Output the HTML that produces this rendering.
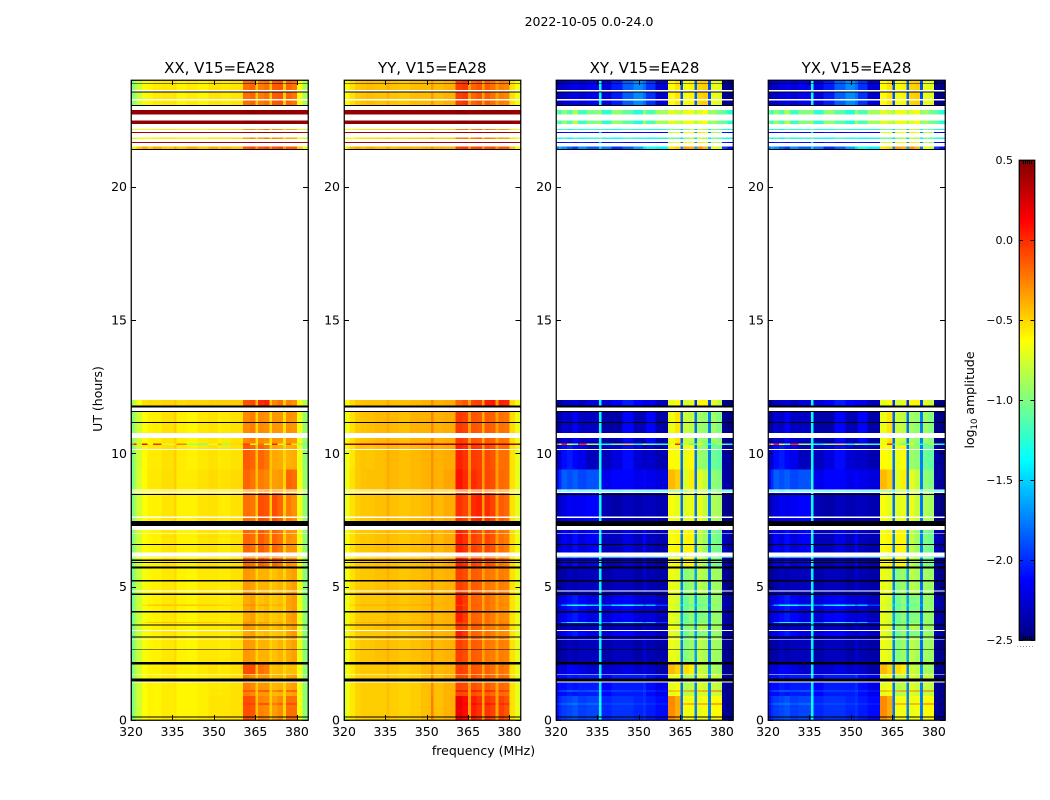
<!DOCTYPE html>
<html>
<head>
<meta charset="utf-8">
<title>2022-10-05 0.0-24.0</title>
<style>
html,body{margin:0;padding:0;background:#fff;}
svg{display:block;}
text{font-family:"DejaVu Sans","Liberation Sans",sans-serif;fill:#000;}
</style>
</head>
<body>
<svg id="fig" xmlns="http://www.w3.org/2000/svg" width="1050" height="800" viewBox="0 0 1050 800">
<rect x="0" y="0" width="1050" height="800" fill="#fff"/>
<text x="589" y="26" font-size="12.5" text-anchor="middle">2022-10-05 0.0-24.0</text>
<text x="0" y="0" font-size="12.5" text-anchor="middle" transform="translate(102,399) rotate(-90)">UT (hours)</text>
<text x="483.5" y="755" font-size="12.5" text-anchor="middle">frequency (MHz)</text>
<text x="0" y="0" font-size="12.5" text-anchor="middle" transform="translate(974,400) rotate(-90)">log<tspan font-size="8.5" dy="3">10</tspan><tspan dy="-3"> amplitude</tspan></text>
</svg>
<script>
// Frequency bin edges (MHz) shared by every spectrum below.
const freqEdges = [320,321,322,324,326,328,331,335.5,336.5,340,344,348,351.5,352.5,356,360.5,363,365,366,368,370,371,373,375,376,378,380,382,384];
const freqTicks = [320,335,350,365,380];
const utTicks = [0,5,10,15,20];
const cbarTicks = [0.5,0,-0.5,-1,-1.5,-2,-2.5];
const cbarLabels = ['0.5','0.0','\u22120.5','\u22121.0','\u22121.5','\u22122.0','\u22122.5'];

// Observation intervals in UT hours: [start, end, spectrum kind].
const dataRows = [
[0,0.10,'b0'],[0.14,0.58,'b0'],[0.58,0.62,'spike'],[0.62,0.90,'b0'],[0.90,1.06,'b1'],[1.06,1.10,'spike'],[1.10,1.41,'b1'],[1.55,1.70,'b1'],[1.73,2.09,'b2'],
[2.17,2.62,'b5'],[2.65,3.01,'b5'],[3.04,3.10,'b5'],[3.14,3.33,'b4'],[3.37,3.55,'b5'],
[3.59,3.63,'b5'],[3.63,3.68,'streak'],[3.68,4.04,'b4'],[4.08,4.27,'b4'],[4.27,4.33,'streak'],[4.33,4.68,'b4'],[4.75,4.81,'b5'],[4.85,5.19,'b5'],[5.25,5.69,'b5'],
[5.75,5.88,'b6'],[5.92,5.97,'b6'],[6.01,6.09,'b6'],[6.11,6.14,'thinB'],[6.28,6.56,'b6'],
[6.60,6.99,'b6'],[7.02,7.12,'b6'],[7.46,7.57,'b8'],[7.63,8.43,'b8'],[8.47,8.52,'b8'],
[8.56,8.60,'thinB'],[8.64,9.40,'b9lo'],[9.40,10.12,'b9hi'],[10.16,10.31,'b9hi'],[10.31,10.36,'rfi'],
[10.36,10.57,'b11'],[10.76,11.13,'b11'],[11.17,11.55,'b11'],[11.79,12.00,'b12'],
[21.41,21.51,'b21'],[21.64,21.68,'thinA'],[21.79,21.85,'thinB'],[22.02,22.05,'thinA'],[22.12,22.17,'thinB'],
[22.35,22.48,'dark'],[22.70,22.88,'dark'],[23.07,23.24,'top'],[23.28,23.53,'top'],[23.63,23.87,'top'],[23.89,24,'top']
];
// Fully flagged intervals, drawn black.
const flaggedRows = [[0.10,0.14],[1.45,1.55],[2.09,2.17],[2.62,2.65],[3.10,3.14],[3.55,3.59],[4.04,4.08],[4.68,4.75],[5.19,5.25],[5.69,5.75],[5.88,5.92],[5.97,6.01],[6.56,6.60],[7.28,7.46],[8.43,8.47],[11.13,11.17],[11.55,11.59],[11.71,11.79],[21.38,21.41],[23.03,23.07],[23.53,23.57],[23.87,23.89]];

// log10 amplitude x 100 per frequency bin, XX.
const xxTop=[-100,-90,-78,-66,-60,-57,-56,-54,-60,-57,-60,-55,-55,-57,-55,-20,-17,-46,-24,-20,-46,-14,-12,-48,-17,-22,-62,-88];
const xxDark=[42,44,45,45,45,45,45,45,45,45,45,45,45,45,45,47,48,45,46,46,45,46,46,45,46,46,44,42];
const xxThinA=[38,40,40,40,40,40,40,40,40,40,40,40,40,40,40,42,42,40,42,42,40,42,42,40,42,42,40,38];
const xxThinB=[-80,-75,-66,-62,-60,-58,-56,-55,-58,-58,-60,-56,-56,-56,-54,-34,-28,-50,-32,-22,-50,-28,-32,-50,-38,-38,-60,-78];
const xxB21=[-72,-58,-46,-36,-46,-36,-46,-36,-46,-36,-46,-36,-46,-40,-46,-12,-8,-30,-12,-6,-30,-10,-6,-30,-12,-12,-46,-66];
const xxB12=[-90,-78,-66,-54,-52,-52,-50,-46,-52,-50,-50,-48,-48,-48,-48,-12,-8,-42,0,3,-46,-26,-20,-48,-26,-30,-60,-86];
const xxB11=[-98,-88,-76,-64,-59,-58,-54,-48,-58,-60,-56,-54,-58,-56,-54,-28,-24,-52,-28,-30,-54,-32,-32,-54,-30,-32,-66,-94];
const xxRfi=[-20,5,-55,12,-60,0,-75,-55,-25,-90,-100,-70,-40,-95,-50,-5,-60,-90,-20,-70,-80,5,-60,-90,-15,-55,-95,-105];
const xxB9hi=[-102,-90,-76,-62,-57,-57,-54,-48,-57,-59,-56,-54,-57,-56,-54,-14,-17,-44,-17,-22,-46,-37,-38,-50,-40,-38,-66,-96];
const xxB9lo=[-102,-90,-74,-62,-56,-56,-53,-48,-57,-57,-54,-52,-55,-54,-52,-17,-22,-44,-24,-27,-46,-34,-32,-50,-17,-20,-64,-94];
const xxB8=[-102,-90,-76,-64,-59,-59,-55,-50,-59,-59,-55,-54,-57,-57,-54,-20,-22,-46,-10,-12,-48,-10,-17,-48,-24,-30,-66,-96];
const xxB6=[-102,-90,-76,-64,-60,-59,-55,-52,-59,-59,-55,-54,-57,-57,-54,-17,-20,-46,-14,-20,-48,-17,-22,-48,-30,-32,-66,-96];
const xxB5=[-104,-92,-78,-66,-60,-59,-56,-52,-59,-60,-56,-56,-57,-57,-54,-32,-34,-50,-40,-40,-50,-44,-40,-50,-38,-34,-68,-98];
const xxB4=[-104,-92,-78,-66,-60,-59,-56,-52,-59,-60,-56,-56,-57,-57,-54,-38,-34,-50,-45,-42,-50,-46,-44,-51,-36,-32,-68,-98];
const xxB2=[-102,-90,-76,-64,-59,-59,-56,-54,-59,-59,-56,-54,-57,-56,-54,-10,-10,-44,-20,-24,-48,-44,-42,-50,-44,-44,-66,-96];
const xxB1=[-102,-90,-76,-64,-59,-60,-57,-56,-60,-60,-58,-56,-57,-56,-54,-24,-28,-46,-32,-32,-48,-42,-40,-50,-37,-34,-66,-96];
const xxB0=[-102,-90,-76,-64,-59,-60,-57,-56,-60,-60,-58,-55,-55,-55,-54,-10,-12,-44,-26,-28,-48,-34,-28,-50,-20,-20,-66,-96];
const xxStreak=[-100,-90,-70,-56,-48,-46,-45,-46,-46,-46,-46,-46,-50,-50,-52,-30,-30,-46,-35,-35,-48,-40,-38,-50,-35,-34,-62,-90];
const xxSpike=[-102,-90,-76,-64,-59,-60,-57,-56,-60,-60,-58,-55,-55,-55,-54,-4,-2,-44,0,5,-48,-15,-4,-50,-2,0,-66,-96];

// log10 amplitude x 100 per frequency bin, YY.
const yyTop=[-66,-62,-54,-47,-45,-43,-45,-40,-45,-47,-43,-43,-32,-43,-40,-6,-3,-34,-17,-12,-36,-14,-20,-34,-24,-27,-54,-66];
const yyDark=[42,44,45,45,45,45,45,45,45,45,45,45,45,45,45,48,48,45,46,46,45,46,46,45,46,46,44,42];
const yyThinA=[38,40,40,40,40,40,40,40,40,40,40,40,42,40,40,42,42,40,42,42,40,42,42,40,42,42,40,38];
const yyThinB=[-72,-66,-62,-56,-54,-54,-52,-48,-52,-52,-50,-49,-39,-49,-49,-24,-20,-44,-24,-18,-44,-24,-28,-44,-32,-34,-56,-70];
const yyB21=[-64,-54,-42,-36,-42,-36,-42,-34,-42,-38,-40,-36,-29,-38,-40,-6,-3,-29,-8,-6,-29,-10,-8,-29,-12,-12,-44,-62];
const yyB12=[-70,-62,-52,-46,-45,-44,-44,-38,-44,-44,-42,-40,-28,-40,-38,-18,-12,-34,-8,-6,-36,4,6,-34,3,1,-52,-66];
const yyB11=[-70,-64,-54,-47,-45,-44,-42,-38,-42,-44,-40,-40,-26,-40,-38,-4,-7,-34,-12,-14,-38,-14,-16,-34,-20,-22,-52,-68];
const yyRfi=[40,42,42,42,42,42,42,42,42,42,42,42,42,42,42,42,42,42,42,42,42,42,42,42,42,42,42,40];
const yyB9hi=[-72,-66,-56,-47,-45,-46,-44,-38,-42,-44,-42,-40,-30,-40,-38,3,-2,-32,-4,-6,-34,-8,-12,-34,-20,-20,-54,-70];
const yyB9lo=[-72,-66,-54,-47,-45,-44,-44,-38,-42,-44,-42,-40,-30,-40,-36,8,0,-30,0,-4,-34,-8,-10,-34,-18,-20,-54,-70];
const yyB8=[-72,-66,-54,-48,-46,-46,-44,-38,-44,-46,-44,-42,-32,-42,-38,-2,-7,-32,0,3,-34,0,-7,-34,-14,-18,-54,-70];
const yyB6=[-70,-64,-54,-48,-46,-46,-44,-40,-44,-46,-44,-42,-32,-42,-38,4,-2,-32,-6,-10,-34,-8,-12,-34,-20,-24,-52,-68];
const yyB5=[-70,-64,-54,-48,-46,-46,-44,-40,-44,-46,-44,-42,-30,-42,-40,-6,-10,-34,-14,-16,-36,-22,-24,-36,-24,-26,-54,-70];
const yyB4=[-72,-66,-56,-48,-46,-46,-46,-42,-44,-46,-44,-42,-30,-42,-40,4,-4,-34,-16,-18,-36,-20,-24,-36,-28,-30,-54,-70];
const yyB2=[-72,-66,-56,-48,-46,-46,-46,-42,-46,-48,-46,-42,-30,-42,-40,-6,-8,-34,-12,-14,-36,-16,-20,-36,-20,-24,-54,-70];
const yyB1=[-74,-66,-56,-50,-48,-48,-48,-44,-48,-50,-48,-44,-28,-44,-40,-8,-10,-34,-10,-14,-36,-14,-18,-36,-18,-20,-54,-70];
const yyB0=[-74,-66,-56,-50,-48,-48,-48,-44,-48,-50,-48,-44,-24,-44,-40,18,10,-34,4,-2,-36,-2,-6,-36,-6,-12,-54,-70];
const yyStreak=[-70,-64,-50,-42,-40,-40,-40,-38,-40,-40,-40,-38,-28,-40,-40,-4,-8,-34,-14,-16,-36,-20,-24,-36,-24,-26,-54,-70];
const yySpike=[-74,-66,-56,-50,-48,-48,-48,-44,-48,-50,-48,-44,-24,-44,-40,22,18,-34,15,12,-36,14,10,-36,6,4,-54,-70];

// log10 amplitude x 100 per frequency bin, XY.
const xyTop=[-235,-232,-228,-222,-218,-222,-215,-135,-222,-205,-185,-172,-180,-198,-225,-62,-55,-190,-65,-60,-185,-50,-48,-190,-68,-72,-245,-248];
const xyDark=[-105,-125,-95,-115,-85,-120,-100,-90,-125,-95,-110,-128,-92,-115,-90,-72,-78,-90,-68,-66,-90,-72,-64,-98,-90,-104,-108,-128];
const xyThinA=[-215,-220,-210,-205,-215,-205,-210,-150,-215,-205,-215,-210,-205,-210,-215,-80,-70,-180,-60,-65,-170,-55,-60,-175,-85,-90,-205,-215];
const xyThinB=[-125,-135,-120,-140,-115,-130,-125,-110,-130,-135,-120,-130,-125,-135,-130,-105,-110,-145,-95,-85,-150,-80,-90,-140,-100,-110,-130,-135];
const xyB21=[-175,-160,-170,-185,-195,-170,-185,-150,-175,-200,-185,-165,-145,-130,-140,-55,-50,-170,-35,-40,-165,-30,-42,-175,-65,-75,-195,-210];
const xyB12=[-245,-242,-232,-228,-225,-232,-222,-135,-225,-215,-205,-212,-218,-218,-232,-70,-62,-200,-75,-70,-200,-60,-60,-195,-70,-80,-248,-250];
const xyB11=[-242,-240,-225,-230,-215,-230,-230,-135,-238,-238,-212,-234,-234,-212,-238,-68,-55,-185,-78,-82,-180,-90,-95,-175,-90,-100,-245,-248];
const xyRfi=[-25,-90,5,-60,-100,0,-85,-120,-130,-90,-50,-130,-60,-100,-120,-70,0,-150,-80,-110,-120,-60,-100,-130,-110,-80,-110,-130];
const xyB9hi=[-232,-225,-210,-205,-212,-218,-232,-135,-232,-222,-210,-225,-232,-228,-235,-62,-65,-180,-68,-62,-180,-92,-96,-175,-105,-110,-240,-244];
const xyB9lo=[-210,-200,-185,-190,-185,-192,-188,-130,-218,-212,-212,-218,-212,-218,-222,-42,-48,-185,-72,-58,-180,-70,-80,-175,-95,-100,-238,-242];
const xyB8=[-235,-230,-222,-215,-218,-215,-212,-135,-235,-238,-232,-235,-232,-232,-235,-65,-70,-180,-72,-68,-180,-68,-80,-178,-85,-90,-245,-248];
const xyB6=[-238,-232,-215,-222,-210,-222,-215,-135,-232,-232,-220,-232,-212,-232,-235,-65,-60,-175,-60,-60,-175,-80,-92,-175,-100,-105,-232,-240];
const xyB5=[-246,-242,-238,-232,-235,-232,-232,-140,-238,-232,-232,-238,-225,-235,-238,-68,-72,-175,-98,-92,-165,-82,-88,-180,-90,-92,-243,-247];
const xyB4=[-232,-225,-218,-210,-205,-212,-220,-135,-225,-215,-212,-222,-228,-222,-232,-70,-75,-165,-105,-95,-165,-100,-98,-175,-92,-95,-238,-242];
const xyStreak=[-215,-205,-165,-140,-130,-135,-150,-135,-175,-145,-135,-150,-170,-155,-195,-75,-85,-150,-110,-105,-150,-110,-105,-165,-95,-100,-230,-238];
const xyB2=[-228,-220,-225,-212,-215,-220,-228,-140,-228,-225,-220,-228,-220,-228,-238,-42,-50,-175,-52,-58,-175,-78,-82,-170,-88,-92,-243,-247];
const xyB1=[-215,-210,-210,-205,-208,-205,-205,-140,-212,-205,-205,-205,-200,-210,-218,-70,-65,-180,-85,-82,-175,-72,-78,-175,-78,-82,-243,-247];
const xyB0=[-208,-200,-195,-192,-188,-195,-192,-135,-202,-198,-198,-202,-198,-205,-210,-28,-38,-180,-66,-66,-175,-68,-66,-175,-62,-62,-243,-247];
const xySpike=[-195,-185,-175,-170,-168,-178,-172,-135,-190,-185,-185,-190,-185,-192,-200,-28,-34,-180,-25,-20,-175,-25,-22,-175,-15,-15,-243,-247];

const spectraXX = {top:xxTop,dark:xxDark,thinA:xxThinA,thinB:xxThinB,b21:xxB21,b12:xxB12,b11:xxB11,rfi:xxRfi,b9hi:xxB9hi,b9lo:xxB9lo,b8:xxB8,b6:xxB6,b5:xxB5,b4:xxB4,streak:xxStreak,b2:xxB2,b1:xxB1,b0:xxB0,spike:xxSpike};
const spectraYY = {top:yyTop,dark:yyDark,thinA:yyThinA,thinB:yyThinB,b21:yyB21,b12:yyB12,b11:yyB11,rfi:yyRfi,b9hi:yyB9hi,b9lo:yyB9lo,b8:yyB8,b6:yyB6,b5:yyB5,b4:yyB4,streak:yyStreak,b2:yyB2,b1:yyB1,b0:yyB0,spike:yySpike};
const spectraXY = {top:xyTop,dark:xyDark,thinA:xyThinA,thinB:xyThinB,b21:xyB21,b12:xyB12,b11:xyB11,rfi:xyRfi,b9hi:xyB9hi,b9lo:xyB9lo,b8:xyB8,b6:xyB6,b5:xyB5,b4:xyB4,streak:xyStreak,b2:xyB2,b1:xyB1,b0:xyB0,spike:xySpike};

const panelTitles = ['XX, V15=EA28','YY, V15=EA28','XY, V15=EA28','YX, V15=EA28'];
const panelSpectra = [spectraXX,spectraYY,spectraXY,spectraXY];

const NS='http://www.w3.org/2000/svg';
const svg=document.getElementById('fig');
const AX_TOP=80,AX_BOTTOM=720;
const axLeft=[131,344,556,768];
const axWidth=[177,176.5,177,177];
function yUT(h){return AX_BOTTOM-(h/24)*(AX_BOTTOM-AX_TOP);}
function xFreq(i,f){return axLeft[i]+((f-320)/64)*axWidth[i];}
function clip(v){return Math.max(0,Math.min(1,v));}
function jet(v){
  const t=clip((v+2.5)/3);
  const r=clip(1.5-Math.abs(4*t-3)),g=clip(1.5-Math.abs(4*t-2)),b=clip(1.5-Math.abs(4*t-1));
  return 'rgb('+Math.round(r*255)+','+Math.round(g*255)+','+Math.round(b*255)+')';
}
function make(tag,attrs,parent){
  const el=document.createElementNS(NS,tag);
  for(const k in attrs){el.setAttribute(k,attrs[k]);}
  parent.appendChild(el);
  return el;
}

panelTitles.forEach(function(title,i){
  const g=make('g',{},svg);
  
  
  const spectra=panelSpectra[i];
  dataRows.forEach(function(row){
    const vals=spectra[row[2]];
    const y0=yUT(row[1]),y1=yUT(row[0]);
    vals.forEach(function(v,c){
      const x0=xFreq(i,freqEdges[c]),x1=xFreq(i,freqEdges[c+1]);
      const cell=make('rect',{x:x0,y:y0,width:x1-x0,height:y1-y0,fill:jet(v/100),'shape-rendering':'crispEdges'},g);
      
      
    });
  });
  flaggedRows.forEach(function(row){
    const y0=yUT(row[1]),y1=yUT(row[0]);
    const band=make('rect',{x:axLeft[i],y:y0,width:axWidth[i],height:y1-y0,fill:'#000','shape-rendering':'crispEdges'},g);
    
    
  });
  const frame=make('rect',{x:axLeft[i]+0.25,y:AX_TOP+0.25,width:axWidth[i],height:AX_BOTTOM-AX_TOP,fill:'none',stroke:'#000','stroke-width':1.25},g);
  
  
  const r=axLeft[i]+axWidth[i];
  utTicks.forEach(function(h){
    const y=Math.round(yUT(h))+0.5;
    const tl=make('line',{x1:axLeft[i],x2:axLeft[i]+5,y1:y,y2:y,stroke:'#000','stroke-width':1},g);
    
    
    const tr=make('line',{x1:r-5,x2:r,y1:y,y2:y,stroke:'#000','stroke-width':1},g);
    
    
    const lb=make('text',{x:axLeft[i]-4,y:yUT(h)+4.5,'font-size':12.5,'text-anchor':'end'},g);
    lb.textContent=String(h);
    
    
  });
  freqTicks.forEach(function(f){
    const x=Math.round(xFreq(i,f))+0.5;
    const tb=make('line',{x1:x,x2:x,y1:AX_BOTTOM-5,y2:AX_BOTTOM,stroke:'#000','stroke-width':1},g);
    
    
    const tt=make('line',{x1:x,x2:x,y1:AX_TOP,y2:AX_TOP+5,stroke:'#000','stroke-width':1},g);
    
    
    const lb=make('text',{x:xFreq(i,f),y:AX_BOTTOM+16,'font-size':12.5,'text-anchor':'middle'},g);
    lb.textContent=String(f);
    
    
  });
  const tt=make('text',{x:axLeft[i]+axWidth[i]/2,y:AX_TOP-7,'font-size':15,'text-anchor':'middle'},g);
  tt.textContent=title;
  
  
});

// Colorbar
const CB_X=1019,CB_W=15.5,CB_TOP=160,CB_BOTTOM=640;
function yCb(v){return CB_TOP+((0.5-v)/3)*(CB_BOTTOM-CB_TOP);}
const cb=make('g',{},svg);


for(let py=CB_TOP;py<CB_BOTTOM;py+=2){
  const v=0.5-((py+1-CB_TOP)/(CB_BOTTOM-CB_TOP))*3;
  const s=make('rect',{x:CB_X,y:py,width:CB_W,height:2,fill:jet(v),'shape-rendering':'crispEdges'},cb);
  
  
}
const cbFrame=make('rect',{x:CB_X+0.25,y:CB_TOP+0.25,width:CB_W,height:CB_BOTTOM-CB_TOP,fill:'none',stroke:'#000','stroke-width':1.25},cb);


cbarTicks.forEach(function(v,n){
  const y=Math.round(yCb(v))+0.5;
  const a=make('line',{x1:CB_X,x2:CB_X+4,y1:y,y2:y,stroke:'#000'},cb);
  
  
  const b=make('line',{x1:CB_X+CB_W-4,x2:CB_X+CB_W,y1:y,y2:y,stroke:'#000'},cb);
  
  
  const t=make('text',{x:1013,y:yCb(v)+4,'font-size':11,'text-anchor':'end'},cb);
  t.textContent=cbarLabels[n];
  
  
});
for(let k=0;k<5;k++){
  const x=CB_X+4.5+k*2;
  const a=make('line',{x1:x,x2:x,y1:CB_TOP,y2:CB_TOP+4,stroke:'#000'},cb);
  
  
  const b=make('line',{x1:x,x2:x,y1:CB_BOTTOM-4,y2:CB_BOTTOM,stroke:'#000'},cb);
  
  
}
const dots=make('line',{x1:1017,x2:1035,y1:646.5,y2:646.5,stroke:'#999','stroke-width':1,'stroke-dasharray':'1 2'},cb);


</script>
</body>
</html>
